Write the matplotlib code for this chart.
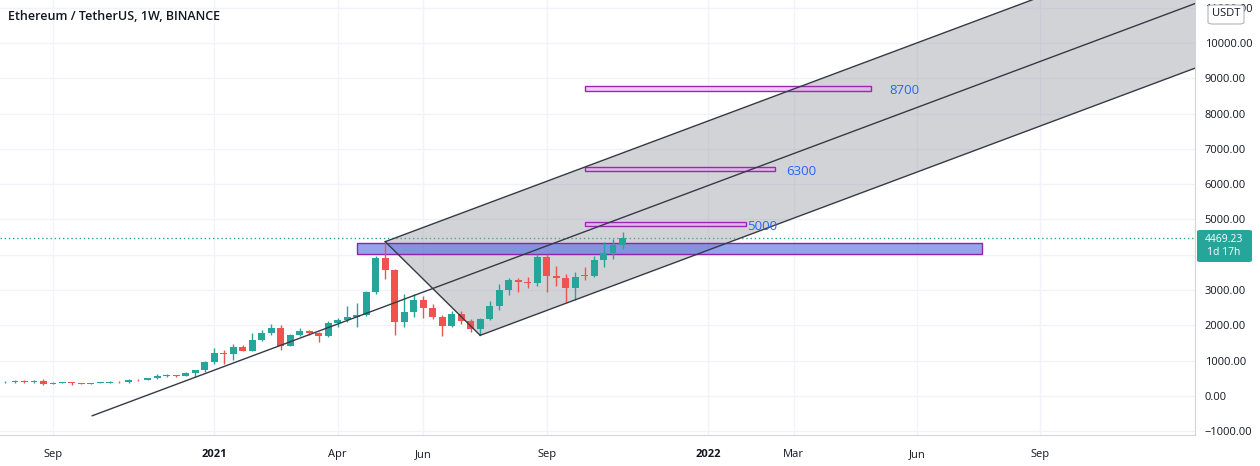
import matplotlib
matplotlib.use("Agg")
import matplotlib.pyplot as plt
import matplotlib.dates as mdates
import matplotlib.patches as mpatches
import numpy as np
import pandas as pd

# weekly ETH/USDT bars, one per week starting 2020-08-03 (open, high, low, close)
opens = [386, 395, 433, 388, 428, 335, 381, 385, 355, 341, 376, 380, 396, 384, 454, 448, 509, 575, 585, 570, 638, 730,
         975, 1230, 1200, 1397, 1284, 1600, 1780, 1920, 1416, 1720, 1840, 1780, 1690, 2080, 2150, 2240, 2300, 2950,
         3920, 3580, 2090, 2390, 2710, 2500, 2240, 1970, 2320, 2130, 1890, 2190, 2550, 3010, 3280, 3225, 3210, 3940,
         3410, 3330, 3060, 3420, 3400, 3840, 4060, 4290]
highs = [414, 446, 442, 441, 488, 393, 398, 390, 370, 382, 395, 420, 411, 470, 476, 520, 622, 635, 600, 680, 740, 1000,
         1350, 1290, 1470, 1440, 1776, 1870, 2040, 2000, 1750, 1940, 1870, 1800, 2130, 2200, 2545, 2645, 2980, 3980,
         4372, 3600, 2900, 2890, 2840, 2600, 2300, 2400, 2420, 2180, 2200, 2700, 3170, 3330, 3335, 3375, 4030, 4030,
         3680, 3450, 3520, 3650, 3970, 4375, 4460, 4650]
lows = [356, 370, 378, 373, 308, 330, 358, 310, 332, 334, 364, 367, 370, 372, 436, 440, 480, 540, 535, 565, 550, 680,
        900, 906, 1020, 1270, 1270, 1550, 1720, 1290, 1410, 1700, 1740, 1540, 1680, 1950, 2100, 1950, 2260, 2900,
        3306, 1730, 1950, 2250, 2220, 2170, 1700, 1950, 2040, 1820, 1718, 2150, 2450, 2860, 2950, 3060, 3120, 2950,
        3120, 2650, 2720, 3300, 3380, 3660, 3870, 4150]
closes = [395, 433, 388, 428, 335, 381, 385, 355, 341, 376, 380, 396, 384, 454, 448, 509, 575, 585, 570, 638, 730, 975,
          1230, 1200, 1397, 1284, 1600, 1780, 1920, 1416, 1720, 1840, 1780, 1690, 2080, 2150, 2240, 2300, 2950, 3920,
          3580, 2090, 2390, 2710, 2500, 2240, 1970, 2320, 2130, 1890, 2190, 2550, 3010, 3280, 3225, 3210, 3940, 3410,
          3330, 3060, 3385, 3400, 3840, 4060, 4290, 4469.23]
weeks = pd.date_range("2020-08-03", periods=len(opens), freq="7D")
last_price = 4469.23
countdown = "1d 17h"

# pitchfork anchors
fork_dates = ["2020-10-06", "2021-05-10", "2021-07-19"]
fork_values = [-560, 4372, 1718]

# target zones
zone_start = "2021-10-04"
zone_ends = ["2022-05-03", "2022-02-21", "2022-01-31"]
zone_lows = [8640, 6374, 4816]
zone_highs = [8782, 6487, 4930]
zone_labels = ["8700", "6300", "5000"]
label_dates = ["2022-05-17", "2022-03-02", "2022-02-01"]
label_values = [8650, 6360, 4790]

# support box
box_start, box_end = "2021-04-19", "2022-07-24"
box_low, box_high = 4023, 4334

# price scale (4000 sits under the price tag)
y_ticks = np.arange(-1000, 11001, 1000)
hidden_tick = 4000

tick_dates = ["2020-09-07", "2021-01-04", "2021-04-05", "2021-06-07", "2021-09-06",
              "2022-01-03", "2022-03-07", "2022-06-06", "2022-09-05"]
tick_labels = ["Sep", "2021", "Apr", "Jun", "Sep", "2022", "Mar", "Jun", "Sep"]

up_c = "#26a69a"
dn_c = "#ef5350"
font = "Open Sans"

fig = plt.figure(figsize=(12.6, 4.66), dpi=100)
ax = fig.add_axes([0, 31 / 466, 1195 / 1260, 435 / 466])

x = mdates.date2num(weeks)
o = np.array(opens, dtype=float)
c = np.array(closes, dtype=float)
h = np.array(highs, dtype=float)
l = np.array(lows, dtype=float)
cols = [up_c if cc >= oo else dn_c for oo, cc in zip(o, c)]
ax.vlines(x, l, h, colors=cols, linewidth=1, zorder=5.5)
body = np.maximum(np.abs(c - o), 12)
ax.bar(x, body, bottom=np.minimum(o, c), width=5, color=cols, linewidth=0, zorder=5.5)

# pitchfork
fx = mdates.date2num(pd.to_datetime(fork_dates))
fy = np.array(fork_values, dtype=float)
mx, my = (fx[1] + fx[2]) / 2, (fy[1] + fy[2]) / 2
dx, dy = mx - fx[0], my - fy[0]
k = 4
poly = [(fx[1], fy[1]), (fx[2], fy[2]), (fx[2] + k * dx, fy[2] + k * dy), (fx[1] + k * dx, fy[1] + k * dy)]
ax.add_patch(mpatches.Polygon(poly, closed=True, facecolor="#9598a1", alpha=0.42, edgecolor="none", zorder=4))
lc = "#363a45"
ax.plot([fx[0], fx[0] + (k + 1) * dx], [fy[0], fy[0] + (k + 1) * dy], color=lc, lw=1, zorder=6)
ax.plot([fx[1], fx[1] + k * dx], [fy[1], fy[1] + k * dy], color=lc, lw=1, zorder=6)
ax.plot([fx[2], fx[2] + k * dx], [fy[2], fy[2] + k * dy], color=lc, lw=1, zorder=6)
ax.plot([fx[1], fx[2]], [fy[1], fy[2]], color=lc, lw=1, zorder=6)

# support box
b0, b1 = mdates.date2num(pd.to_datetime([box_start, box_end]))
ax.add_patch(mpatches.Rectangle((b0, box_low), b1 - b0, box_high - box_low, facecolor="#4d6ae6", alpha=0.6,
                                edgecolor="none", zorder=5))
ax.add_patch(mpatches.Rectangle((b0, box_low), b1 - b0, box_high - box_low, facecolor="none",
                                edgecolor="#8e24aa", lw=1, zorder=5))

# target zones
z0 = mdates.date2num(pd.Timestamp(zone_start))
for e, lo, hi, lab, ld, lv in zip(zone_ends, zone_lows, zone_highs, zone_labels, label_dates, label_values):
    z1 = mdates.date2num(pd.Timestamp(e))
    ax.add_patch(mpatches.Rectangle((z0, lo), z1 - z0, hi - lo, facecolor="#e6a9f0", alpha=0.6,
                                    edgecolor="none", zorder=5))
    ax.add_patch(mpatches.Rectangle((z0, lo), z1 - z0, hi - lo, facecolor="none",
                                    edgecolor="#9c27b0", lw=1, zorder=5))
    ax.text(mdates.date2num(pd.Timestamp(ld)), lv, lab, color="#2962ff", fontsize=9.5, family=font,
            va="center", ha="left", zorder=7)

# last price line
ax.axhline(last_price, color=up_c, lw=1, ls=(0, (1, 2)), zorder=2)

ax.set_xlim(mdates.date2num(pd.Timestamp("2020-07-30")), mdates.date2num(pd.Timestamp("2022-12-28")))
ax.set_ylim(-1105, 11218)

ax.set_yticks(y_ticks)
ax.set_yticklabels(["" if v == hidden_tick else ("\u22121000.00" if v < 0 else f"{v:.2f}") for v in y_ticks])
ax.yaxis.tick_right()
ax.tick_params(axis="y", length=0, pad=7, labelsize=8, labelcolor="#131722")
for t in ax.get_yticklabels():
    t.set_family(font)

ax.set_xticks(mdates.date2num(pd.to_datetime(tick_dates)))
ax.set_xticklabels(tick_labels)
ax.tick_params(axis="x", length=0, pad=10, labelsize=8, labelcolor="#131722")
for t in ax.get_xticklabels():
    t.set_family(font)
    if t.get_text() in ("2021", "2022"):
        t.set_fontweight("bold")

ax.grid(True, color="#f0f3fa", lw=1, zorder=0)
ax.set_axisbelow(True)
for s in ("top", "left"):
    ax.spines[s].set_visible(False)
ax.spines["bottom"].set_color("#d1d4dc")
ax.spines["right"].set_color("#d1d4dc")

# price tag on the axis
fig.patches.append(mpatches.FancyBboxPatch((1197 / 1260, (466 - 262) / 466), 55 / 1260, 32 / 466,
                                           boxstyle="round,pad=0,rounding_size=0.003", transform=fig.transFigure,
                                           facecolor=up_c, edgecolor="none"))
fig.text(1224 / 1260, (466 - 246) / 466, f"{last_price:.2f}\n{countdown}", color="white", fontsize=7.5,
         family=font, ha="center", va="center", linespacing=1.25)

# currency badge
fig.patches.append(mpatches.FancyBboxPatch((1208 / 1260, (466 - 24) / 466), 36 / 1260, 19 / 466,
                                           boxstyle="round,pad=0,rounding_size=0.004", transform=fig.transFigure,
                                           facecolor="white", edgecolor="#b2b5be", lw=0.8))
fig.text(1226 / 1260, (466 - 14) / 466, "USDT", color="#131722", fontsize=8, family=font, ha="center", va="center")

fig.text(8 / 1260, (466 - 16) / 466, "Ethereum / TetherUS, 1W, BINANCE", color="#131722", fontsize=9,
         family=font, fontweight="semibold", ha="left", va="center")

fig.savefig("out.png", dpi=100, facecolor="white")
